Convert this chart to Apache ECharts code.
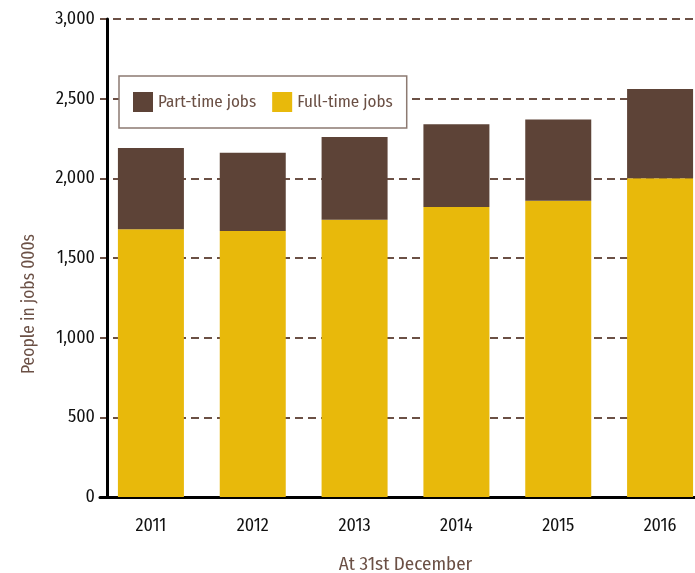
<!DOCTYPE html>
<html><head><meta charset="utf-8">
<script src="https://cdn.jsdelivr.net/npm/echarts@6/dist/echarts.min.js"></script>
<style>html,body{margin:0;padding:0;background:#fff;overflow:hidden;width:695px;height:573px}#c{position:absolute;left:0;top:0;width:711px;height:573px}</style>
</head><body><div id="c"></div>
<script>
const years = ['2011','2012','2013','2014','2015','2016'];
const fullTime = [1680, 1670, 1740, 1820, 1860, 2000];
const partTime = [510, 490, 520, 520, 510, 560];
const yTicks = [0, 500, 1000, 1500, 2000, 2500, 3000];

const FONT = '"Fira Sans Condensed","DejaVu Sans Condensed",sans-serif';
const BROWN = '#5D4337';
const GOLD = '#E8B90B';
const chart = echarts.init(document.getElementById('c'), null, { width: 711, height: 573 });
chart.setOption({
  animation: false,
  textStyle: { fontFamily: FONT },
  grid: { left: 100, right: 0, top: 19, bottom: 76, containLabel: false, outerBoundsMode: 'none' },
  legend: {
    data: ['Part-time jobs', 'Full-time jobs'],
    left: 119, top: 76,
    orient: 'horizontal',
    backgroundColor: '#fff',
    borderColor: '#8C7A72', borderWidth: 1.5,
    padding: [16, 14, 16, 14],
    itemWidth: 20, itemHeight: 20, itemGap: 16,
    icon: 'rect',
    textStyle: { fontFamily: FONT, fontSize: 17, color: '#6B5045' }
  },
  xAxis: {
    type: 'category', data: years,
    name: 'At 31st December', nameLocation: 'middle', nameGap: 58,
    nameTextStyle: { fontFamily: FONT, fontSize: 19, color: '#6B5045' },
    axisLine: { lineStyle: { color: '#000', width: 3 } },
    axisTick: { show: false },
    axisLabel: { fontFamily: FONT, fontSize: 18, color: '#111', margin: 20 }
  },
  yAxis: {
    type: 'value', min: 0, max: 3000, interval: 500,
    offset: -7,
    name: 'People in jobs 000s', nameLocation: 'middle', nameGap: 69, nameRotate: 90,
    nameTextStyle: { fontFamily: FONT, fontSize: 17.5, color: '#6B5045', padding: [0, 92, 0, 0] },
    axisLine: { show: true, lineStyle: { color: '#000', width: 3 } },
    axisTick: { show: false },
    axisLabel: { fontFamily: FONT, fontSize: 18, color: '#111', margin: 12,
      formatter: v => yTicks.includes(v) ? v.toLocaleString('en-US') : '' },
    splitLine: { show: true, lineStyle: { color: '#6B5045', width: 2, type: [8, 5] } }
  },
  series: [
    { name: 'Full-time jobs', type: 'bar', stack: 'a', data: fullTime, barWidth: 66,
      itemStyle: { color: GOLD } },
    { name: 'Part-time jobs', type: 'bar', stack: 'a', data: partTime, barWidth: 66,
      itemStyle: { color: BROWN } }
  ]
});
</script></body></html>
